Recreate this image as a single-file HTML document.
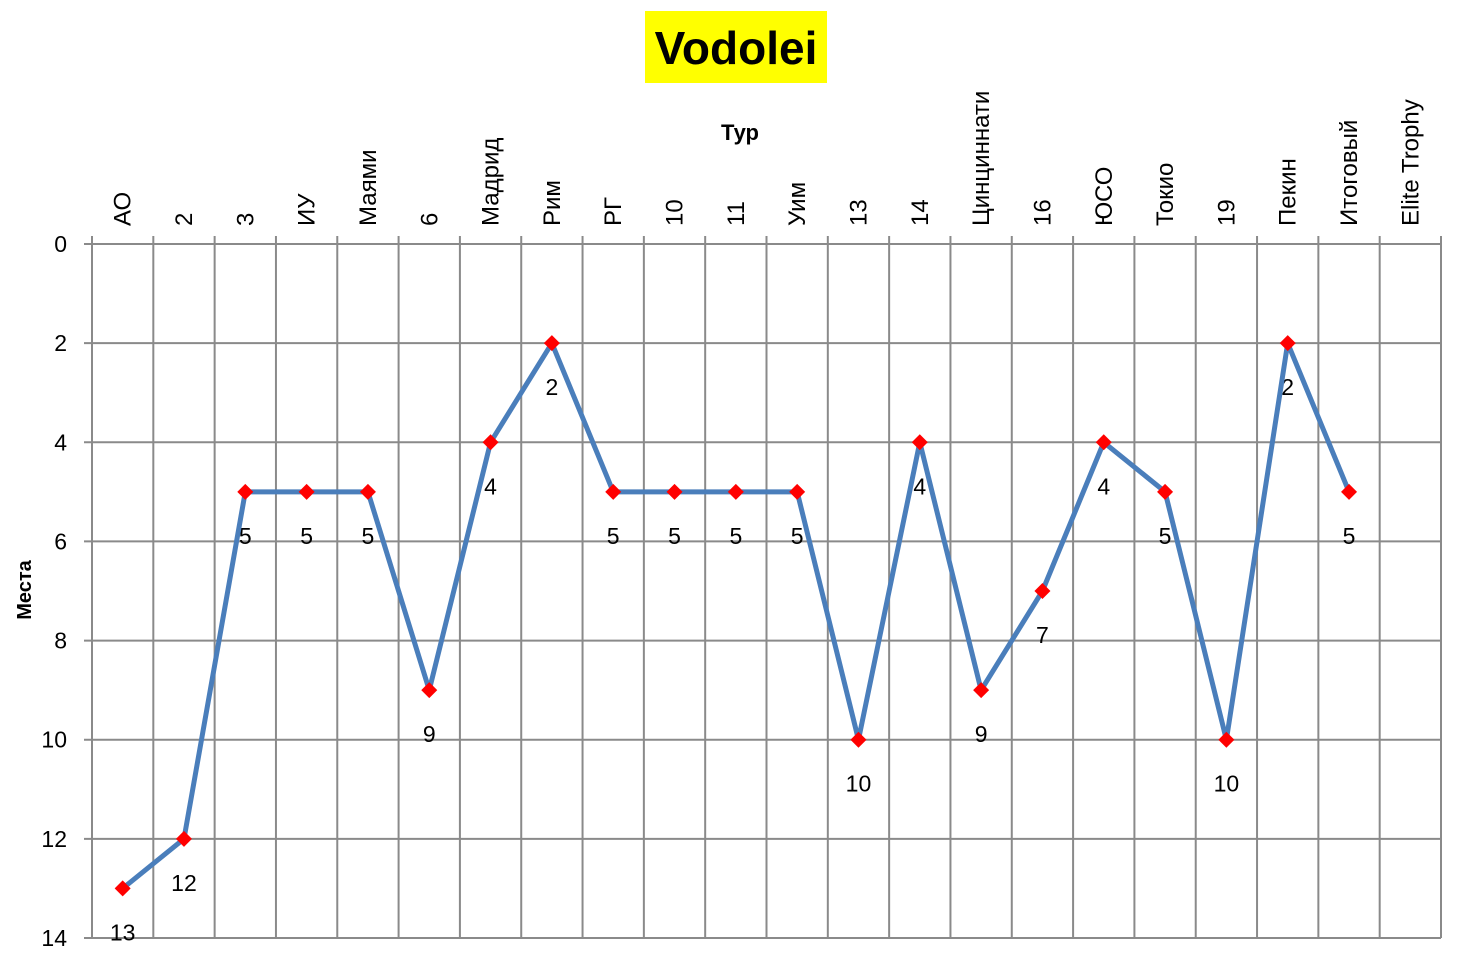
<!DOCTYPE html>
<html><head><meta charset="utf-8"><style>
html,body{margin:0;padding:0;background:#fff;}
svg{display:block;font-family:"Liberation Sans","DejaVu Sans",sans-serif;}
</style></head><body>
<svg id="chart" width="1460" height="962">
<rect x="645" y="11" width="182" height="72" fill="#ffff00"/>
<text x="736" y="64" text-anchor="middle" font-size="46" font-weight="bold" fill="#000">Vodolei</text>
<text x="740" y="140" text-anchor="middle" font-size="22" font-weight="bold" fill="#000">Тур</text>
<text transform="translate(31,590) rotate(-90)" text-anchor="middle" font-size="20" font-weight="bold" fill="#000">Места</text>
<g id="grid"></g><g id="labels"></g><g id="series"></g>
</svg>
<script>
const categories=["АО","2","3","ИУ","Маями","6","Мадрид","Рим","РГ","10","11","Уим","13","14","Цинциннати","16","ЮСО","Токио","19","Пекин","Итоговый","Elite Trophy"];
const values=[13,12,5,5,5,9,4,2,5,5,5,5,10,4,9,7,4,5,10,2,5,null];
const yTicks=[0,2,4,6,8,10,12,14];
const NS="http://www.w3.org/2000/svg";
const L=92,R=1441,T=244,B=938,yMax=14;
const bw=(R-L)/categories.length;
const xPos=i=>L+bw*(i+0.5);
const yPos=v=>T+(B-T)*v/yMax;
function mk(tag,attrs,parent){const e=document.createElementNS(NS,tag);for(const k in attrs)e.setAttribute(k,attrs[k]);parent.appendChild(e);return e;}
const grid=document.getElementById('grid'),labels=document.getElementById('labels'),series=document.getElementById('series');
yTicks.forEach(v=>{
 const ln=mk('line',{x1:L-8,x2:R,y1:yPos(v),y2:yPos(v),stroke:'#8a8a8a','stroke-width':2},grid);
 
 
 const t=mk('text',{x:67,y:yPos(v)+8,'text-anchor':'end','font-size':23,fill:'#000'},labels);
 t.textContent=v;
 
 
});
for(let i=0;i<=categories.length;i++){
 const x=L+bw*i;
 const ln=mk('line',{x1:x,x2:x,y1:T-8,y2:B,stroke:'#8a8a8a','stroke-width':2},grid);
 
 
}
categories.forEach((c,i)=>{
 const x=xPos(i)+8;
 const t=mk('text',{transform:`translate(${x},226) rotate(-90)`,'font-size':24,fill:'#000'},labels);
 t.textContent=c;
 
 
});
let d='';
values.forEach((v,i)=>{if(v==null)return;d+=(d?'L':'M')+xPos(i)+','+yPos(v);});
const path=mk('path',{d:d,fill:'none',stroke:'#4a7ebb','stroke-width':5,'stroke-linejoin':'round'},series);


values.forEach((v,i)=>{
 if(v==null)return;
 const x=xPos(i),y=yPos(v);
 const p=mk('polygon',{points:`${x},${y-8} ${x+8},${y} ${x},${y+8} ${x-8},${y}`,fill:'#ff0000'},series);
 
 
 const t=mk('text',{x:x,y:y+52,'text-anchor':'middle','font-size':23,fill:'#000'},labels);
 t.textContent=v;
 
 
});
</script>
</body></html>
